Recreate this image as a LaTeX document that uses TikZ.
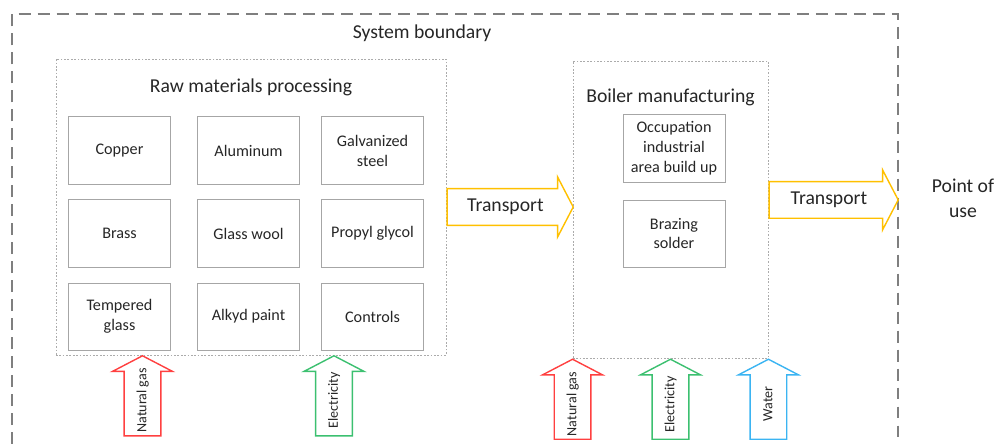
\documentclass[tikz,border=0pt]{standalone}
\usepackage{fontspec}
\setmainfont{Carlito}
\usetikzlibrary{positioning, shapes.arrows}
\definecolor{boxborder}{HTML}{A6A6A6}
\definecolor{regborder}{HTML}{ABABAB}
\definecolor{sysborder}{HTML}{7F7F7F}
\definecolor{transborder}{HTML}{FFC000}
\definecolor{gasborder}{HTML}{FF4040}
\definecolor{elecborder}{HTML}{3CC070}
\definecolor{waterborder}{HTML}{3BB4F2}
\definecolor{darktext}{HTML}{262626}
\tikzset{
  card/.style={rectangle, draw=boxborder, line width=0.7pt, align=center,
               minimum width=2.55cm, minimum height=1.675cm,
               font=\fontsize{11.5}{14.2}\selectfont, text=darktext},
  region/.style={rectangle, draw=regborder, line width=0.6pt,
                 dash pattern=on 1.2pt off 1.2pt},
  regtitle/.style={font=\fontsize{14}{17.8}\selectfont, text=darktext, align=center},
  sysline/.style={draw=sysborder, line width=0.8pt, dash pattern=on 8.5pt off 5pt},
  transport/.style={single arrow, draw=transborder, line width=1pt, anchor=tail,
                    single arrow tip angle=125, minimum width=1.5cm,
                    text height=0.32cm, text depth=0.09cm, inner ysep=0.17cm,
                    font=\fontsize{14}{16}\selectfont, text=darktext},
  supply/.style={single arrow, rotate=90, anchor=tip, line width=1pt,
                 minimum height=2cm, minimum width=1.5cm, single arrow tip angle=125,
                 text height=0.26cm, text depth=0.07cm, inner ysep=0.21cm, inner xsep=0pt,
                 font=\fontsize{10}{12}\selectfont, text=darktext},
}
\def\colgap{0.65cm}
\def\colgapb{0.525cm}
\def\rowgap{0.375cm}

\begin{document}
\begin{tikzpicture}[x=0.025cm, y=-0.025cm]
\useasboundingbox (0,0) rectangle (1000,444);

% System boundary, open at the bottom
\draw[sysline] (12,444) -- (12,14) -- (898,14) -- (898,444);
\node[regtitle] (systitle) at (422,33) {System boundary};

% Raw materials processing
\node[region, minimum width=9.75cm, minimum height=7.4cm] (raw) at (251,207) {};
\node[regtitle] (rawtitle) at ([yshift=-0.725cm]raw.north) {Raw materials processing};
\node[card] (copper) at (119.5,150.5) {Copper};
\node[card, right=\colgap of copper] (alu) {Aluminum};
\node[card, right=\colgapb of alu] (steel) {Galvanized\\steel};
\node[card, below=\rowgap of copper] (brass) {Brass};
\node[card, below=\rowgap of alu] (wool) {Glass wool};
\node[card, below=\rowgap of steel] (glycol) {Propyl glycol};
\node[card, below=\rowgap of brass] (glass) {Tempered\\glass};
\node[card, below=\rowgap of wool] (paint) {Alkyd paint};
\node[card, below=\rowgap of glycol] (controls) {Controls};

% Boiler manufacturing
\node[region, minimum width=4.875cm, minimum height=7.425cm] (boiler) at (670.5,209.5) {};
\node[regtitle] (boilertitle) at ([yshift=-0.925cm]boiler.north) {Boiler manufacturing};
\node[card] (occup) at (674,148.5) {Occupation\\industrial\\area build up};
\node[card, below=0.425cm of occup] (brazing) {Brazing\\solder};

% Transport
\node[transport, minimum height=3.15cm] (trans1) at (raw.east) {Transport};
\node[transport, minimum height=3.225cm] (trans2) at ([yshift=0.24cm]boiler.east) {Transport};
\node[regtitle] (use) at (963,198) {Point of\\use};

% Inputs
\node[supply, draw=gasborder] (gas1) at (142.5,355) {Natural gas};
\node[supply, draw=elecborder] (elec1) at (334,355) {Electricity};
\node[supply, draw=gasborder] (gas2) at (boiler.south west) {Natural gas};
\node[supply, draw=elecborder] (elec2) at (boiler.south) {Electricity};
\node[supply, draw=waterborder] (water) at (boiler.south east) {Water};

\end{tikzpicture}
\end{document}
